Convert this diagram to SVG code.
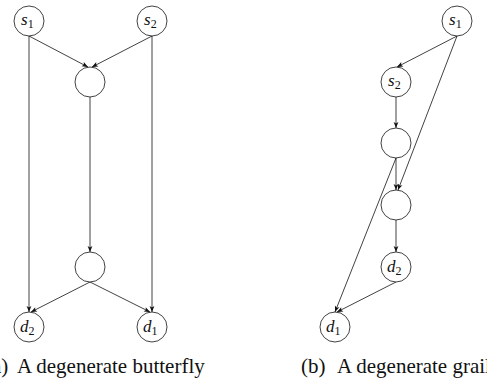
<svg xmlns="http://www.w3.org/2000/svg" width="487" height="383" viewBox="0 0 487 383">
<style>
.n{fill:#fff;stroke:#111;stroke-width:0.8}
.e{fill:none;stroke:#111;stroke-width:0.8}
.lbl{font-family:"Liberation Serif","DejaVu Serif",serif;font-style:italic;font-size:17px;fill:#111}
.sub{font-style:normal;font-size:12px}
.cap{font-family:"Liberation Serif","Times New Roman",serif;font-size:21px;fill:#111}
</style>
<defs>
<marker id="ah" markerUnits="userSpaceOnUse" markerWidth="8" markerHeight="8" viewBox="-7 -4 8 8" refX="0" refY="0" orient="auto">
<path d="M0,0 L-6,-2.4 L-4.6,0 L-6,2.4 Z" fill="#111"/>
</marker>
</defs>
<g id="connectors">
<line class="e" x1="29" y1="36" x2="88" y2="67" marker-end="url(#ah)"/>
<line class="e" x1="152" y1="36" x2="92" y2="67" marker-end="url(#ah)"/>
<line class="e" x1="29" y1="36" x2="29" y2="312" marker-end="url(#ah)"/>
<line class="e" x1="152" y1="36" x2="152" y2="312" marker-end="url(#ah)"/>
<line class="e" x1="90" y1="97" x2="90" y2="252" marker-end="url(#ah)"/>
<line class="e" x1="90" y1="282" x2="31" y2="312" marker-end="url(#ah)"/>
<line class="e" x1="90" y1="282" x2="150" y2="312" marker-end="url(#ah)"/>
<line class="e" x1="457" y1="36" x2="397" y2="67" marker-end="url(#ah)"/>
<line class="e" x1="457" y1="36" x2="398" y2="190" marker-end="url(#ah)"/>
<line class="e" x1="396" y1="97" x2="396" y2="128" marker-end="url(#ah)"/>
<line class="e" x1="396" y1="158" x2="396" y2="190" marker-end="url(#ah)"/>
<line class="e" x1="396" y1="158" x2="335" y2="312" marker-end="url(#ah)"/>
<line class="e" x1="396" y1="220" x2="396" y2="252" marker-end="url(#ah)"/>
<line class="e" x1="396" y1="282" x2="337" y2="312" marker-end="url(#ah)"/>
</g>
<g id="a_s1"><circle class="n" cx="29" cy="21" r="15"/><text class="lbl" x="21" y="25">s<tspan class="sub" dy="3">1</tspan></text></g>
<g id="a_s2"><circle class="n" cx="152" cy="21" r="15"/><text class="lbl" x="144" y="25">s<tspan class="sub" dy="3">2</tspan></text></g>
<g id="a_m1"><circle class="n" cx="90" cy="82" r="15"/></g>
<g id="a_m2"><circle class="n" cx="90" cy="267" r="15"/></g>
<g id="a_d2"><circle class="n" cx="29" cy="327" r="15"/><text class="lbl" x="20" y="332">d<tspan class="sub" dy="3">2</tspan></text></g>
<g id="a_d1"><circle class="n" cx="152" cy="327" r="15"/><text class="lbl" x="143" y="332">d<tspan class="sub" dy="3">1</tspan></text></g>
<g id="b_s1"><circle class="n" cx="457" cy="21" r="15"/><text class="lbl" x="449" y="25">s<tspan class="sub" dy="3">1</tspan></text></g>
<g id="b_s2"><circle class="n" cx="396" cy="82" r="15"/><text class="lbl" x="388" y="86">s<tspan class="sub" dy="3">2</tspan></text></g>
<g id="b_a"><circle class="n" cx="396" cy="143" r="15"/></g>
<g id="b_b"><circle class="n" cx="396" cy="205" r="15"/></g>
<g id="b_d2"><circle class="n" cx="396" cy="267" r="15"/><text class="lbl" x="387" y="272">d<tspan class="sub" dy="3">2</tspan></text></g>
<g id="b_d1"><circle class="n" cx="335" cy="327" r="15"/><text class="lbl" x="326" y="332">d<tspan class="sub" dy="3">1</tspan></text></g>
<text class="cap" y="373"><tspan x="-15">(a)</tspan><tspan x="17">A degenerate butterfly</tspan></text>
<text class="cap" y="373"><tspan x="301">(b)</tspan><tspan x="337">A degenerate grail</tspan></text>
</svg>
